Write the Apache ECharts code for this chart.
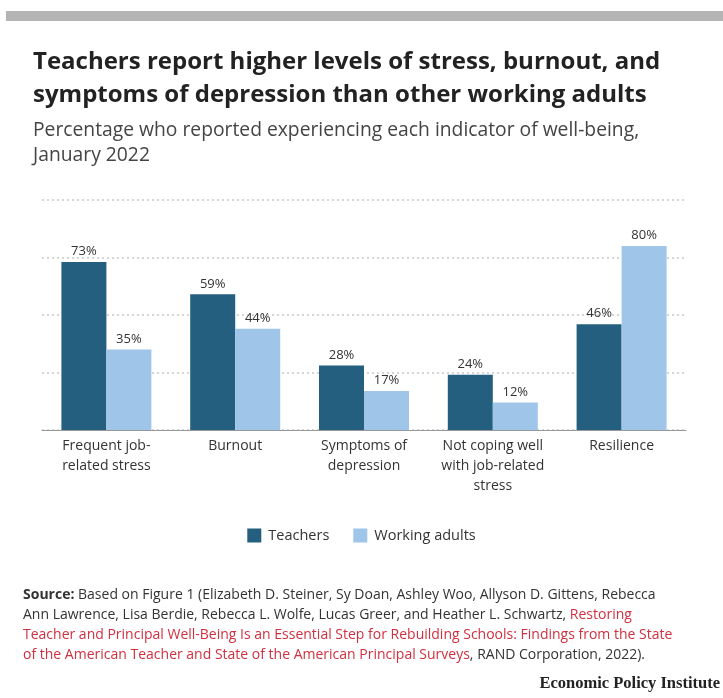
<!DOCTYPE html>
<html><head><meta charset="utf-8">
<script src="https://cdn.jsdelivr.net/npm/echarts@6/dist/echarts.min.js"></script>
<style>html,body{margin:0;padding:0;background:#fff;}#c{width:723px;height:698px;}</style>
</head><body><div id="c"></div>
<script>
const categories = ['Frequent job-\nrelated stress', 'Burnout', 'Symptoms of\ndepression', 'Not coping well\nwith job-related\nstress', 'Resilience'];
const teachers = [73, 59, 28, 24, 46];
const workingAdults = [35, 44, 17, 12, 80];
const seriesNames = ['Teachers', 'Working adults'];
const yTicks = [0, 25, 50, 75, 100];

const FONT = 'Open Sans';
const chart = echarts.init(document.getElementById('c'), null, {renderer: 'canvas'});
chart.setOption({
  backgroundColor: '#fff',
  animation: false,
  title: [
    {text: 'Teachers report higher levels of stress, burnout, and\nsymptoms of depression than other working adults',
     left: 28, top: 41, padding: 5,
     textStyle: {fontFamily: FONT, fontWeight: 'bold', fontSize: 24, lineHeight: 33, color: '#222'}},
    {text: 'Percentage who reported experiencing each indicator of well-being,\nJanuary 2022',
     left: 28, top: 113,
     textStyle: {fontFamily: FONT, fontWeight: 'normal', fontSize: 19.3, lineHeight: 25, color: '#444'}},
    {text: '{b|Source:} Based on Figure 1 (Elizabeth D. Steiner, Sy Doan, Ashley Woo, Allyson D. Gittens, Rebecca\nAnn Lawrence, Lisa Berdie, Rebecca L. Wolfe, Lucas Greer, and Heather L. Schwartz, {r|Restoring}\n{r|Teacher and Principal Well-Being Is an Essential Step for Rebuilding Schools: Findings from the State}\n{r|of the American Teacher and State of the American Principal Surveys}, RAND Corporation, 2022).',
     left: 18, top: 580,
     textStyle: {fontFamily: FONT, fontWeight: 'normal', fontSize: 14, lineHeight: 20, color: '#333',
       rich: {b: {fontFamily: FONT, fontWeight: 'bold', fontSize: 14, color: '#333', lineHeight: 20},
              r: {fontFamily: FONT, fontWeight: 'normal', fontSize: 14, color: '#d0303f', lineHeight: 20}}}},
    {text: 'Economic Policy Institute', right: -2, top: 670,
     textStyle: {fontFamily: 'Liberation Serif', fontWeight: 'bold', fontSize: 16.5, color: '#222'}}
  ],
  graphic: [{type: 'rect', shape: {x: 6, y: 11, width: 717, height: 10}, style: {fill: '#b4b4b4'}, silent: true}],
  legend: {
    data: seriesNames, top: 523, left: 'center', itemWidth: 14, itemHeight: 14, itemGap: 24,
    icon: 'rect', textStyle: {fontFamily: FONT, fontSize: 14.5, color: '#333', padding: [0, 0, 0, 2]}
  },
  grid: {left: 42, right: 37, top: 200, height: 230},
  xAxis: {
    type: 'category', data: categories,
    axisLine: {lineStyle: {color: '#999', width: 1}},
    axisTick: {show: false},
    axisLabel: {fontFamily: FONT, fontSize: 14, color: '#333', lineHeight: 20, margin: 6, interval: 0}
  },
  yAxis: {
    type: 'value', min: 0, max: 100, interval: 25,
    axisLabel: {show: false}, axisLine: {show: false}, axisTick: {show: false},
    splitLine: {lineStyle: {color: '#c8c8c8', type: [2, 3], width: 1.5}}
  },
  series: [
    {name: seriesNames[0], type: 'bar', data: teachers, barWidth: 45, barGap: '0%',
     itemStyle: {color: '#245f80'},
     label: {show: true, position: 'top', formatter: '{c}%', fontFamily: FONT, fontSize: 13, color: '#333', distance: 4}},
    {name: seriesNames[1], type: 'bar', data: workingAdults, barWidth: 45,
     itemStyle: {color: '#9fc5e8'},
     label: {show: true, position: 'top', formatter: '{c}%', fontFamily: FONT, fontSize: 13, color: '#333', distance: 4}}
  ]
});
</script></body></html>
